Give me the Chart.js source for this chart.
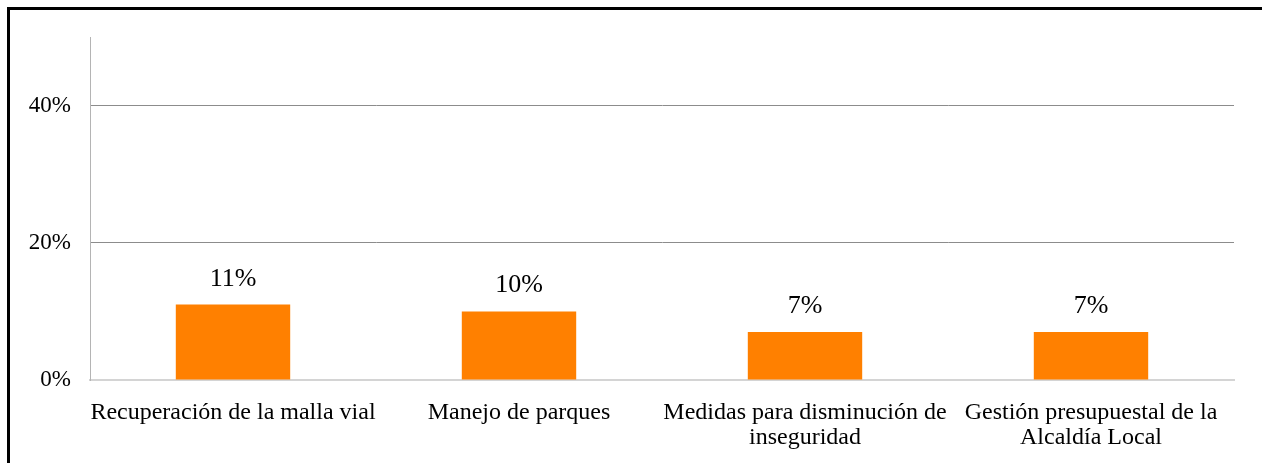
<!DOCTYPE html>
<html>
<head>
<meta charset="utf-8">
<script src="https://cdn.jsdelivr.net/npm/chart.js@4/dist/chart.umd.min.js"></script>
<style>
  html, body { margin: 0; padding: 0; background: #fff; }
  #wrap { position: relative; width: 1262px; height: 463px; overflow: hidden; }
  #frame {
    position: absolute; left: 7px; top: 7px; right: -10px; bottom: -10px;
    border-top: 3px solid #000; border-left: 3px solid #000;
  }
  #chart { position: absolute; left: 0; top: 0; }
</style>
</head>
<body>
<div id="wrap">
  <div id="frame"></div>
  <canvas id="chart" width="1262" height="463"></canvas>
</div>
<script>
// 类别与数值
const categories = [
  'Recuperación de la malla vial',
  'Manejo de parques',
  ['Medidas para disminución de', 'inseguridad'],
  ['Gestión presupuestal de la', 'Alcaldía Local']
]
const values = [11, 10, 7, 7]
const yTicks = [0, 20, 40]

const serif = '"Liberation Serif", "DejaVu Serif", serif'

// 柱顶百分比标签
const valueLabels = {
  id: 'valueLabels',
  afterDatasetsDraw(chart) {
    const ctx = chart.ctx
    const meta = chart.getDatasetMeta(0)
    ctx.save()
    ctx.font = '26px ' + serif
    ctx.fillStyle = '#000'
    ctx.textAlign = 'center'
    ctx.textBaseline = 'alphabetic'
    meta.data.forEach((bar, i) => {
      ctx.fillText(values[i] + '%', bar.x, bar.y - 19)
    })
    ctx.restore()
  }
}

const canvas = document.getElementById('chart')
new Chart(canvas.getContext('2d'), {
  type: 'bar',
  data: {
    labels: categories,
    datasets: [{
      data: values,
      backgroundColor: '#FF8000',
      borderWidth: 0,
      categoryPercentage: 1,
      barPercentage: 0.4
    }]
  },
  options: {
    responsive: false,
    animation: false,
    layout: { padding: { left: 0, right: 28, top: 37, bottom: 0 } },
    plugins: {
      legend: { display: false },
      tooltip: { enabled: false }
    },
    scales: {
      x: {
        afterFit(scale) { scale.height = 83 },
        grid: { display: false },
        border: { display: true, color: '#d4d4d4', width: 2 },
        ticks: {
          color: '#000',
          font: { family: serif, size: 24, lineHeight: 1.04 },
          maxRotation: 0,
          autoSkip: false,
          padding: 12
        }
      },
      y: {
        min: 0,
        max: 50,
        afterFit(scale) { scale.width = 90 },
        afterBuildTicks(scale) {
          scale.ticks = yTicks.map(v => ({ value: v }))
        },
        grid: {
          color: c => (c.tick && c.tick.value === 0 ? 'rgba(0,0,0,0)' : '#8c8c8c'),
          lineWidth: 1,
          drawTicks: false
        },
        border: { display: true, color: '#b4b4b4', width: 1 },
        ticks: {
          color: '#000',
          font: { family: serif, size: 23 },
          padding: 19,
          callback: v => v + '%'
        }
      }
    }
  },
  plugins: [valueLabels]
})
</script>
</body>
</html>
